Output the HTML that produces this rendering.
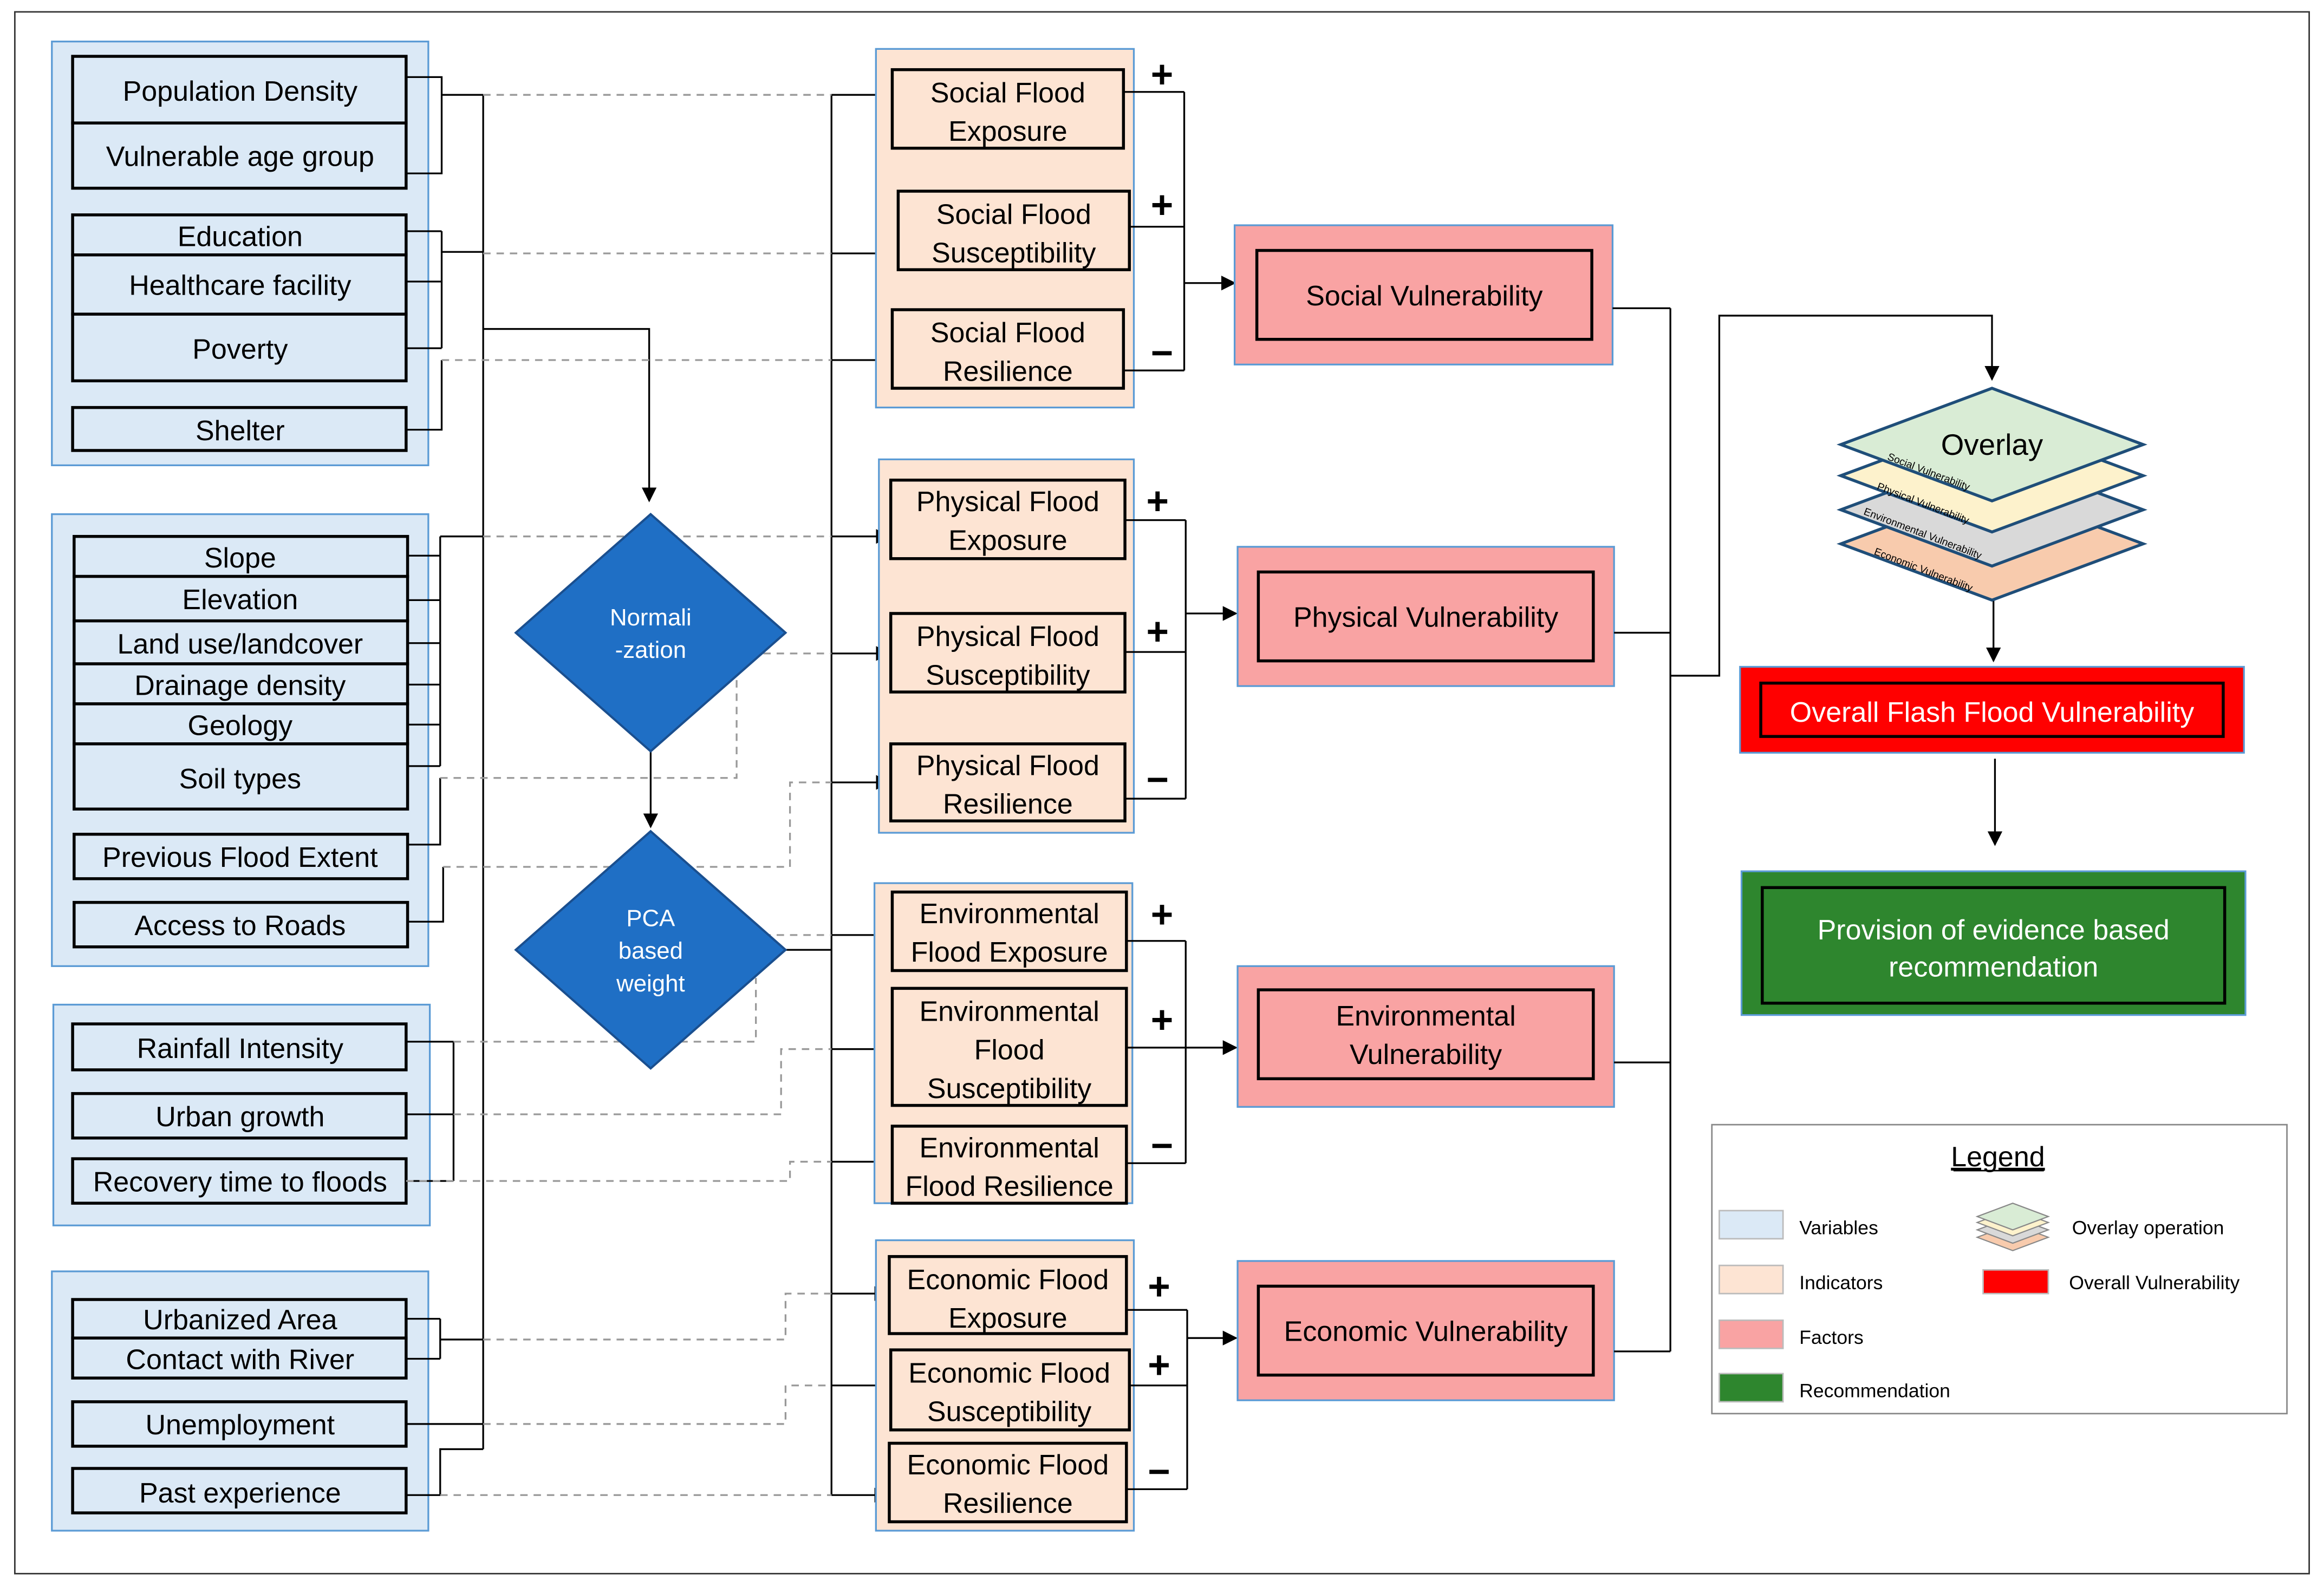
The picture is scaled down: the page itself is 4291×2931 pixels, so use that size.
<!DOCTYPE html>
<html><head><meta charset="utf-8"><style>
html,body{margin:0;padding:0;background:#fff}
svg{display:block}
text{font-family:"Liberation Sans",sans-serif}
</style></head><body>
<svg width="4291" height="2931" viewBox="0 0 1568 1071" xmlns="http://www.w3.org/2000/svg">
<defs>
<marker id="a" markerWidth="10" markerHeight="10" refX="9" refY="5" orient="auto" markerUnits="userSpaceOnUse"><path d="M0,0 L10,5 L0,10 z" fill="#000"/></marker>
</defs>
<rect x="0" y="0" width="1568" height="1071" fill="#fff"/>
<rect x="10" y="8" width="1548" height="1054" fill="none" stroke="#333" stroke-width="1"/>

<!-- left groups -->
<g fill="#dbe9f6" stroke="#5b9bd5" stroke-width="1.2">
<rect x="35" y="28" width="254" height="286"/>
<rect x="35" y="347" width="254" height="305"/>
<rect x="36" y="678" width="254" height="149"/>
<rect x="35" y="858" width="254" height="175"/>
</g>
<g fill="#dbe9f6" stroke="#000" stroke-width="2">
<rect x="49" y="38" width="225" height="45"/><rect x="49" y="83" width="225" height="44"/>
<rect x="49" y="145" width="225" height="27"/><rect x="49" y="172" width="225" height="40"/><rect x="49" y="212" width="225" height="45"/>
<rect x="49" y="275" width="225" height="29"/>
<rect x="50" y="362" width="225" height="27"/><rect x="50" y="389" width="225" height="30"/><rect x="50" y="419" width="225" height="29"/><rect x="50" y="448" width="225" height="27"/><rect x="50" y="475" width="225" height="27"/><rect x="50" y="502" width="225" height="44"/>
<rect x="50" y="563" width="225" height="30"/><rect x="50" y="609" width="225" height="30"/>
<rect x="49" y="691" width="225" height="31"/><rect x="49" y="738" width="225" height="30"/><rect x="49" y="782" width="225" height="30"/>
<rect x="49" y="877" width="225" height="26"/><rect x="49" y="903" width="225" height="27"/><rect x="49" y="946" width="225" height="30"/><rect x="49" y="991" width="225" height="30"/>
</g>
<g font-size="19" text-anchor="middle" fill="#000">
<text x="162" y="68">Population Density</text><text x="162" y="112">Vulnerable age group</text>
<text x="162" y="166">Education</text><text x="162" y="199">Healthcare facility</text><text x="162" y="242">Poverty</text><text x="162" y="297">Shelter</text>
<text x="162" y="383">Slope</text><text x="162" y="411">Elevation</text><text x="162" y="441">Land use/landcover</text><text x="162" y="469">Drainage density</text><text x="162" y="496">Geology</text><text x="162" y="532">Soil types</text>
<text x="162" y="585">Previous Flood Extent</text><text x="162" y="631">Access to Roads</text>
<text x="162" y="714">Rainfall Intensity</text><text x="162" y="760">Urban growth</text><text x="162" y="804">Recovery time to floods</text>
<text x="162" y="897">Urbanized Area</text><text x="162" y="924">Contact with River</text><text x="162" y="968">Unemployment</text><text x="162" y="1014">Past experience</text>
</g>

<!-- solid connectors left -->
<g stroke="#000" stroke-width="1.2" fill="none">
<path d="M274,52H298V117H274M298,64H326"/>
<path d="M274,156H298M274,190H298M274,235H298M298,156V235M298,170H326"/>
<path d="M274,290H298V243"/>
<path d="M275,375H297M275,405H297M275,434H297M275,462H297M275,489H297M275,517H297M297,362V517M297,362H326"/>
<path d="M275,570H297V525M275,622H299V585"/>
<path d="M274,703H306M274,752H306M274,797H306M306,703V797"/>
<path d="M274,890H297M274,917H297M297,890V917M297,904H326"/>
<path d="M274,961H326M274,1009H297V978H326"/>
<path d="M326,64V978"/>
<path d="M326,222H438V338" marker-end="url(#a)"/>
<path d="M439,507V558" marker-end="url(#a)"/>
<path d="M530,641H561"/>
<path d="M561,64V1009"/>
</g>
<g stroke="#000" stroke-width="1.2" fill="none" marker-end="url(#a)">
<path d="M561,64H601"/><path d="M561,171H605"/><path d="M561,243H601"/>
<path d="M561,362H600"/><path d="M561,441H600"/><path d="M561,528H600"/>
<path d="M561,631H601"/><path d="M561,708H601"/><path d="M561,784H601"/>
<path d="M561,873H599"/><path d="M561,935H600"/><path d="M561,1009H599"/>
</g>
<!-- dashed -->
<g stroke="#999" stroke-width="1.2" fill="none" stroke-dasharray="5,4">
<path d="M326,64H561"/><path d="M326,171H561"/><path d="M298,243H561"/>
<path d="M326,362H561"/><path d="M497,441H561"/>
<path d="M297,525H497V455"/>
<path d="M299,585H533V528H561"/>
<path d="M306,703H510V660"/>
<path d="M306,752H527V708H561"/>
<path d="M274,797H533V784H561"/>
<path d="M326,904H530V873H561"/>
<path d="M326,961H530V935H561"/>
<path d="M297,1009H561"/>
<path d="M497,631H561"/>
</g>

<!-- diamonds -->
<g fill="#1f6fc5" stroke="#1a4f8f" stroke-width="1.5">
<polygon points="439,347 530,427 439,507 348,427"/>
<polygon points="439,561 530,641 439,721 348,641"/>
</g>
<g fill="#fff" font-size="16" text-anchor="middle">
<text x="439" y="422">Normali</text><text x="439" y="444">-zation</text>
<text x="439" y="625">PCA</text><text x="439" y="647">based</text><text x="439" y="669">weight</text>
</g>

<!-- indicator groups -->
<g fill="#fde4d3" stroke="#5b9bd5" stroke-width="1.2">
<rect x="591" y="33" width="174" height="242"/>
<rect x="593" y="310" width="172" height="252"/>
<rect x="590" y="596" width="174" height="216"/>
<rect x="591" y="837" width="174" height="196"/>
</g>
<g fill="#fde4d3" stroke="#000" stroke-width="2">
<rect x="602" y="47" width="156" height="53"/><rect x="606" y="129" width="156" height="53"/><rect x="602" y="209" width="156" height="53"/>
<rect x="601" y="324" width="158" height="53"/><rect x="601" y="414" width="158" height="53"/><rect x="601" y="502" width="158" height="52"/>
<rect x="602" y="602" width="158" height="53"/><rect x="602" y="667" width="158" height="79"/><rect x="602" y="760" width="158" height="52"/>
<rect x="600" y="848" width="160" height="52"/><rect x="601" y="911" width="161" height="54"/><rect x="600" y="974" width="160" height="53"/>
</g>
<g font-size="19" text-anchor="middle" fill="#000">
<text x="680" y="69">Social Flood</text><text x="680" y="95">Exposure</text>
<text x="684" y="151">Social Flood</text><text x="684" y="177">Susceptibility</text>
<text x="680" y="231">Social Flood</text><text x="680" y="257">Resilience</text>
<text x="680" y="345">Physical Flood</text><text x="680" y="371">Exposure</text>
<text x="680" y="436">Physical Flood</text><text x="680" y="462">Susceptibility</text>
<text x="680" y="523">Physical Flood</text><text x="680" y="549">Resilience</text>
<text x="681" y="623">Environmental</text><text x="681" y="649">Flood Exposure</text>
<text x="681" y="689">Environmental</text><text x="681" y="715">Flood</text><text x="681" y="741">Susceptibility</text>
<text x="681" y="781">Environmental</text><text x="681" y="807">Flood Resilience</text>
<text x="680" y="870">Economic Flood</text><text x="680" y="896">Exposure</text>
<text x="681" y="933">Economic Flood</text><text x="681" y="959">Susceptibility</text>
<text x="680" y="995">Economic Flood</text><text x="680" y="1021">Resilience</text>
</g>

<!-- combiner lines -->
<g stroke="#000" stroke-width="1.2" fill="none">
<path d="M758,62H799M762,153H799M758,250H799M799,62V250"/>
<path d="M759,351H800M759,440H800M759,539H800M800,351V539"/>
<path d="M760,635H800M760,707H800M760,785H800M800,635V785"/>
<path d="M760,884H801M762,935H801M760,1005H801M801,884V1005"/>
</g>
<g stroke="#000" stroke-width="1.2" fill="none" marker-end="url(#a)">
<path d="M799,191H833"/><path d="M800,414H834"/><path d="M800,707H834"/><path d="M801,903H834"/>
</g>
<g font-size="26" font-weight="bold" text-anchor="middle" fill="#000">
<text x="784" y="59">+</text><text x="784" y="147">+</text><text x="784" y="247">−</text>
<text x="781" y="347">+</text><text x="781" y="435">+</text><text x="781" y="535">−</text>
<text x="784" y="626">+</text><text x="784" y="697">+</text><text x="784" y="782">−</text>
<text x="782" y="877">+</text><text x="782" y="930">+</text><text x="782" y="1002">−</text>
</g>

<!-- factors -->
<g fill="#f9a3a3" stroke="#5b9bd5" stroke-width="1.2">
<rect x="833" y="152" width="255" height="94"/><rect x="835" y="369" width="254" height="94"/>
<rect x="835" y="652" width="254" height="95"/><rect x="835" y="851" width="254" height="94"/>
</g>
<g fill="none" stroke="#000" stroke-width="2">
<rect x="848" y="169" width="226" height="60"/><rect x="849" y="386" width="226" height="60"/>
<rect x="849" y="668" width="226" height="60"/><rect x="849" y="868" width="226" height="60"/>
</g>
<g font-size="19" text-anchor="middle" fill="#000">
<text x="961" y="206">Social Vulnerability</text>
<text x="962" y="423">Physical Vulnerability</text>
<text x="962" y="692">Environmental</text><text x="962" y="718">Vulnerability</text>
<text x="962" y="905">Economic Vulnerability</text>
</g>
<g stroke="#000" stroke-width="1.2" fill="none">
<path d="M1088,208H1127M1089,427H1127M1089,717H1127M1089,912H1127M1127,208V912"/>
<path d="M1127,456H1160V213H1344V256" marker-end="url(#a)"/>
<path d="M1345,405V446" marker-end="url(#a)"/>
<path d="M1346,512V570" marker-end="url(#a)"/>
</g>

<!-- overlay -->
<g stroke="#1f4e79" stroke-width="2">
<polygon points="1242,367 1344,329 1446,367 1344,405" fill="#f8cbad"/>
<polygon points="1242,344 1344,306 1446,344 1344,382" fill="#d9d9d9"/>
<polygon points="1242,321 1344,283 1446,321 1344,359" fill="#fdf2cc"/>
<polygon points="1242,300 1344,262 1446,300 1344,338" fill="#d9ecd5"/>
</g>
<text x="1344" y="307" font-size="20" text-anchor="middle">Overlay</text>
<g font-size="7" fill="#000">
<text transform="translate(1273,310) rotate(21)">Social Vulnerability</text>
<text transform="translate(1266,330) rotate(21)">Physical Vulnerability</text>
<text transform="translate(1257,347) rotate(21)">Environmental Vulnerability</text>
<text transform="translate(1264,374) rotate(21)">Economic Vulnerability</text>
</g>

<rect x="1174" y="450" width="340" height="58" fill="#ff0000" stroke="#5b9bd5" stroke-width="1.2"/>
<rect x="1188" y="461" width="312" height="36" fill="none" stroke="#000" stroke-width="2"/>
<text x="1344" y="487" font-size="19" fill="#fff" text-anchor="middle">Overall Flash Flood Vulnerability</text>
<rect x="1175" y="588" width="340" height="97" fill="#2e862e" stroke="#5b9bd5" stroke-width="1.2"/>
<rect x="1189" y="599" width="312" height="78" fill="none" stroke="#000" stroke-width="2"/>
<text x="1345" y="634" font-size="19" fill="#fff" text-anchor="middle">Provision of evidence based</text>
<text x="1345" y="659" font-size="19" fill="#fff" text-anchor="middle">recommendation</text>

<!-- legend -->
<rect x="1155" y="759" width="388" height="195" fill="#fff" stroke="#888" stroke-width="1"/>
<text x="1348" y="787" font-size="19" text-anchor="middle" text-decoration="underline">Legend</text>
<line x1="1318" y1="790" x2="1379" y2="790" stroke="#000" stroke-width="1"/>
<g stroke="#bbb" stroke-width="1">
<rect x="1160" y="817" width="43" height="19" fill="#dbe9f6"/>
<rect x="1160" y="854" width="43" height="19" fill="#fde4d3"/>
<rect x="1160" y="891" width="43" height="19" fill="#f9a3a3"/>
<rect x="1160" y="927" width="43" height="19" fill="#2e862e"/>
<rect x="1338" y="857" width="44" height="16" fill="#ff0000"/>
</g>
<g font-size="13" fill="#000">
<text x="1214" y="833">Variables</text><text x="1214" y="870">Indicators</text>
<text x="1214" y="907">Factors</text><text x="1214" y="943">Recommendation</text>
<text x="1398" y="833">Overlay operation</text><text x="1396" y="870">Overall Vulnerability</text>
</g>
<g stroke="#888" stroke-width="0.8">
<polygon points="1334,835 1358,826 1382,835 1358,844" fill="#f8cbad"/>
<polygon points="1334,830 1358,821 1382,830 1358,839" fill="#d9d9d9"/>
<polygon points="1334,825 1358,816 1382,825 1358,834" fill="#fdf2cc"/>
<polygon points="1334,821 1358,812 1382,821 1358,830" fill="#d9ecd5"/>
</g>
</svg>
</body></html>
